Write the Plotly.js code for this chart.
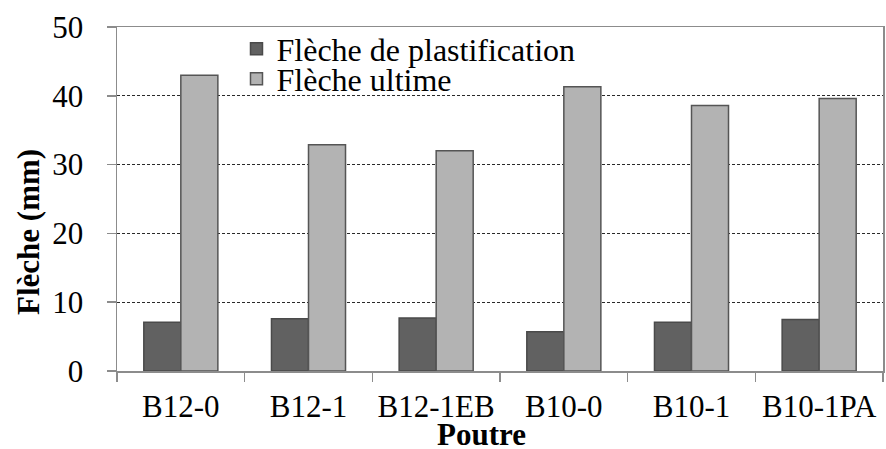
<!DOCTYPE html>
<html>
<head>
<meta charset="utf-8">
<script src="https://cdn.plot.ly/plotly-3.0.1.min.js"></script>
<style>
html,body{margin:0;padding:0;background:#fff;}
#chart{width:886px;height:449px;}
</style>
</head>
<body>
<div id="chart"></div>
<script>
const categories = ["B12-0", "B12-1", "B12-1EB", "B10-0", "B10-1", "B10-1PA"];
const flechePlastification = [7.1, 7.6, 7.7, 5.7, 7.1, 7.5];
const flecheUltime = [43.0, 32.9, 32.0, 41.3, 38.6, 39.6];
const seriesNames = ["Flèche de plastification", "Flèche ultime"];
const yTicks = [0, 10, 20, 30, 40, 50];

const FONT = "Liberation Serif, Times New Roman, serif";
const FS = 31;

const traces = [
  {
    type: "bar", x: categories, y: flechePlastification, name: seriesNames[0],
    marker: {color: "#616161", line: {color: "#4a4a4a", width: 1.5}},
    legend: "legend"
  },
  {
    type: "bar", x: categories, y: flecheUltime, name: seriesNames[1],
    marker: {color: "#b3b3b3", line: {color: "#555555", width: 1.5}},
    legend: "legend2"
  }
];

const layout = {
  width: 886, height: 449,
  margin: {l: 117, r: 3, t: 27, b: 78},
  paper_bgcolor: "#fff", plot_bgcolor: "#fff",
  font: {family: FONT, size: FS, color: "#000"},
  barmode: "group", bargap: 0.42, bargroupgap: 0,
  showlegend: true,
  legend: {x: 0.156, y: 0.936, xanchor: "left", yanchor: "middle", bgcolor: "rgba(0,0,0,0)", font: {family: FONT, size: 32, color: "#000"}},
  legend2: {x: 0.156, y: 0.849, xanchor: "left", yanchor: "middle", bgcolor: "rgba(0,0,0,0)", font: {family: FONT, size: 32, color: "#000"}},
  xaxis: {
    type: "category", tickangle: 0, automargin: false,
    showline: true, linecolor: "#8c8c8c", linewidth: 1.5, mirror: true,
    ticks: "outside", tickson: "boundaries", ticklen: 9, tickcolor: "#8c8c8c", tickwidth: 1.5,
    showgrid: false, zeroline: false, ticklabelstandoff: 7,
    tickfont: {family: FONT, size: FS, color: "#000"}
  },
  yaxis: {
    range: [0, 50], tickvals: yTicks, ticktext: yTicks.map(String), automargin: false,
    showline: true, linecolor: "#8c8c8c", linewidth: 1.5, mirror: true,
    ticks: "outside", ticklen: 9, tickcolor: "#8c8c8c", tickwidth: 1.5,
    showgrid: true, gridcolor: "#2a2a2a", gridwidth: 1, griddash: "3px,2px",
    zeroline: false, ticklabelstandoff: 17,
    tickfont: {family: FONT, size: FS, color: "#000"}
  },
  annotations: [
    {text: "<b>Poutre</b>", xref: "paper", yref: "paper", x: (481-117)/766, y: (371-434)/344,
     xanchor: "center", yanchor: "middle", showarrow: false, font: {family: FONT, size: FS, color: "#000"}},
    {text: "<b>Flèche (mm)</b>", xref: "paper", yref: "paper", x: (29-117)/766, y: (371-232)/344,
     xanchor: "center", yanchor: "middle", textangle: -90, showarrow: false, font: {family: FONT, size: FS, color: "#000"}}
  ]
};

Plotly.newPlot("chart", traces, layout, {displayModeBar: false, staticPlot: true});
</script>
</body>
</html>
